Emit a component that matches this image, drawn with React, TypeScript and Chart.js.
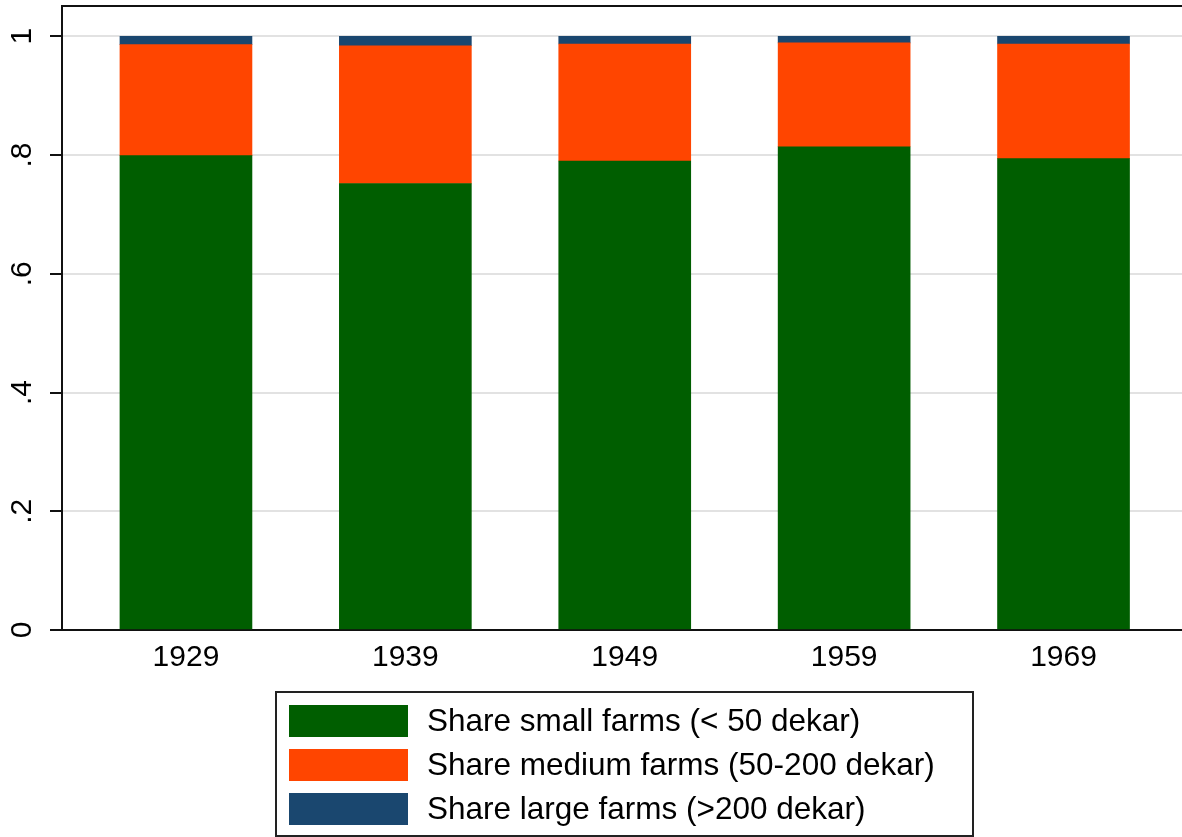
import React, { useEffect, useRef } from "react";
import { Chart, registerables } from "chart.js";

Chart.register(...registerables);

const years = [1929, 1939, 1949, 1959, 1969];
const smallShare = [0.799, 0.752, 0.79, 0.814, 0.794];
const mediumShare = [0.187, 0.232, 0.197, 0.175, 0.193];
const largeShare = [0.014, 0.016, 0.013, 0.011, 0.013];
const yTickValues = [0, 0.2, 0.4, 0.6, 0.8, 1];
const yTickLabels = ["0", ".2", ".4", ".6", ".8", "1"];
const seriesLabels = [
  "Share small farms (< 50 dekar)",
  "Share medium farms (50-200 dekar)",
  "Share large farms (>200 dekar)",
];
const seriesColors = ["#005e00", "#ff4500", "#1a476f"];

const FONT = "'Liberation Sans', Arial, sans-serif";

const decorPlugin = {
  id: "decor",
  afterDraw(chart: any) {
    const ctx = chart.ctx;
    const area = chart.chartArea;
    const yScale = chart.scales.y;
    ctx.save();
    // top border of plot region
    ctx.strokeStyle = "#111";
    ctx.lineWidth = 2;
    ctx.beginPath();
    ctx.moveTo(area.left - 1, area.top);
    ctx.lineTo(chart.width, area.top);
    ctx.stroke();

    // rotated y tick labels
    ctx.fillStyle = "#000";
    ctx.font = `30px ${FONT}`;
    ctx.textAlign = "center";
    ctx.textBaseline = "middle";
    yTickValues.forEach((v, i) => {
      const py = yScale.getPixelForValue(v);
      ctx.save();
      ctx.translate(23, py);
      ctx.rotate(-Math.PI / 2);
      ctx.fillText(yTickLabels[i], 0, 0);
      ctx.restore();
    });

    // legend box
    const bx = 276, by = 692, bw = 697, bh = 144;
    ctx.strokeStyle = "#222";
    ctx.lineWidth = 2;
    ctx.strokeRect(bx, by, bw, bh);
    ctx.font = `31.5px ${FONT}`;
    ctx.textAlign = "left";
    ctx.textBaseline = "middle";
    seriesLabels.forEach((lab, i) => {
      const sy = by + 13 + i * 44;
      ctx.fillStyle = seriesColors[i];
      ctx.fillRect(bx + 13, sy, 119, 32);
      ctx.fillStyle = "#000";
      ctx.fillText(lab, bx + 151, sy + 17);
    });
    ctx.restore();
  },
};

export default function App() {
  const ref = useRef<HTMLCanvasElement>(null);
  useEffect(() => {
    if (!ref.current) return;
    const mk = (arr: number[], i: number) => ({
      label: seriesLabels[i],
      data: years.map((yr, k) => ({ x: yr, y: arr[k] })),
      backgroundColor: seriesColors[i],
      borderWidth: 0,
      barThickness: 132,
    });
    const chart = new Chart(ref.current, {
      type: "bar",
      data: {
        datasets: [mk(smallShare, 0), mk(mediumShare, 1), mk(largeShare, 2)],
      },
      options: {
        responsive: false,
        animation: false,
        layout: { padding: { top: 6, left: 0, right: 0, bottom: 0 } },
        plugins: { legend: { display: false }, tooltip: { enabled: false } },
        scales: {
          x: {
            type: "linear",
            stacked: true,
            offset: false,
            min: 1923.35,
            max: 1974.4,
            afterBuildTicks: (s: any) => {
              s.ticks = years.map((v) => ({ value: v }));
            },
            afterFit: (s: any) => {
              s.height = 207;
            },
            grid: { display: false, offset: false },
            border: { display: true, color: "#111", width: 2 },
            ticks: {
              color: "#000",
              font: { family: FONT, size: 30 },
              padding: 2,
              maxRotation: 0,
              minRotation: 0,
              callback: (v: any) => String(v),
            },
          },
          y: {
            stacked: true,
            min: 0,
            max: 1.051,
            afterBuildTicks: (s: any) => {
              s.ticks = yTickValues.map((v) => ({ value: v }));
            },
            afterFit: (s: any) => {
              s.width = 62;
            },
            grid: {
              color: "#e2e2e2",
              lineWidth: 2,
              drawTicks: true,
              tickLength: 12,
              tickColor: "#111",
              tickWidth: 2,
            },
            border: { display: true, color: "#111", width: 2 },
            ticks: { display: false },
          },
        },
      },
      plugins: [decorPlugin],
    } as any);
    return () => chart.destroy();
  }, []);
  return (
    <div style={{ position: "fixed", left: 0, top: 0, background: "#fff" }}>
      <canvas ref={ref} width={1182} height={837} style={{ display: "block" }} />
    </div>
  );
}
